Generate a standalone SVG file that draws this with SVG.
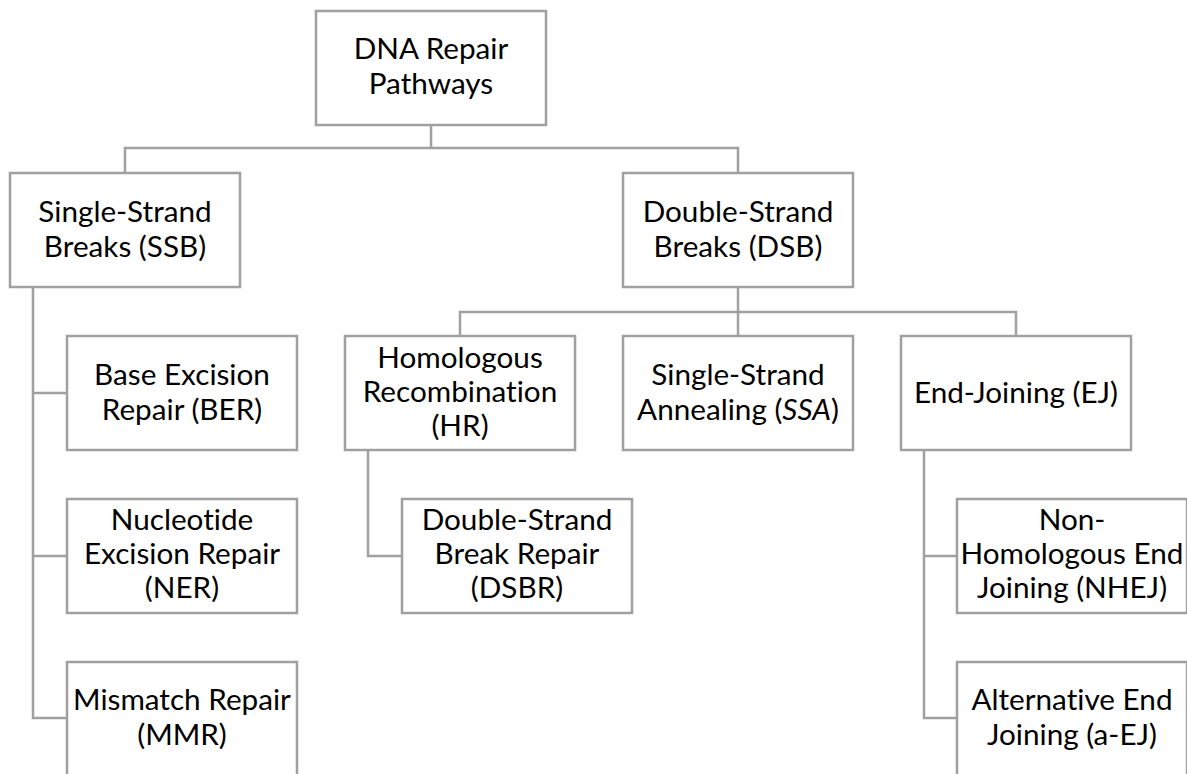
<svg xmlns="http://www.w3.org/2000/svg" width="1187" height="774" viewBox="0 0 1187 774">
<style>
.box{fill:#fff;stroke:#a0a0a0;stroke-width:2.5}
.conn{fill:none;stroke:#a0a0a0;stroke-width:2.5}
text{font-family:Lato,"Open Sans","Liberation Sans",sans-serif;font-size:29.7px;fill:#000;text-anchor:middle;font-variant-ligatures:none}
</style>
<rect width="1187" height="774" fill="#fff"/>
<g id="connectors" class="conn">
<polyline points="431,125 431,148"/>
<polyline points="125,173 125,148 738,148 738,173"/>
<polyline points="33,287 33,718 67,718"/>
<polyline points="33,393 67,393"/>
<polyline points="33,556 67,556"/>
<polyline points="738,287 738,336"/>
<polyline points="460,336 460,312 1016,312 1016,336"/>
<polyline points="368,450 368,556 402,556"/>
<polyline points="924,450 924,718 957,718"/>
<polyline points="924,556 957,556"/>
</g>
<g id="root"><rect class="box" x="316" y="11" width="230" height="114"/><text x="431" y="59">DNA Repair</text><text x="431" y="94">Pathways</text></g>
<g id="ssb"><rect class="box" x="10" y="173" width="230" height="114"/><text x="125" y="222">Single-Strand</text><text x="125" y="257">Breaks (SSB)</text></g>
<g id="dsb"><rect class="box" x="623" y="173" width="230" height="114"/><text x="738" y="222">Double-Strand</text><text x="738" y="257">Breaks (DSB)</text></g>
<g id="ber"><rect class="box" x="67" y="336" width="230" height="114"/><text x="182" y="385">Base Excision</text><text x="182" y="420">Repair (BER)</text></g>
<g id="ner"><rect class="box" x="67" y="499" width="230" height="114"/><text x="182" y="530">Nucleotide</text><text x="182" y="564">Excision Repair</text><text x="182" y="598">(NER)</text></g>
<g id="mmr"><rect class="box" x="67" y="662" width="230" height="114"/><text x="182" y="710">Mismatch Repair</text><text x="182" y="745">(MMR)</text></g>
<g id="hr"><rect class="box" x="345" y="336" width="230" height="114"/><text x="460" y="368">Homologous</text><text x="460" y="402">Recombination</text><text x="460" y="436">(HR)</text></g>
<g id="ssa"><rect class="box" x="623" y="336" width="230" height="114"/><text x="738" y="385">Single-Strand</text><text x="738" y="420">Annealing (<tspan font-style="italic">SSA</tspan>)</text></g>
<g id="ej"><rect class="box" x="901" y="336" width="230" height="114"/><text x="1016" y="403">End-Joining (EJ)</text></g>
<g id="dsbr"><rect class="box" x="402" y="499" width="230" height="114"/><text x="517" y="530">Double-Strand</text><text x="517" y="564">Break Repair</text><text x="517" y="598">(DSBR)</text></g>
<g id="nhej"><rect class="box" x="957" y="499" width="230" height="114"/><text x="1072" y="530">Non-</text><text x="1072" y="564">Homologous End</text><text x="1072" y="598">Joining (NHEJ)</text></g>
<g id="aej"><rect class="box" x="957" y="662" width="230" height="114"/><text x="1072" y="710">Alternative End</text><text x="1072" y="745">Joining (a-EJ)</text></g>
</svg>
